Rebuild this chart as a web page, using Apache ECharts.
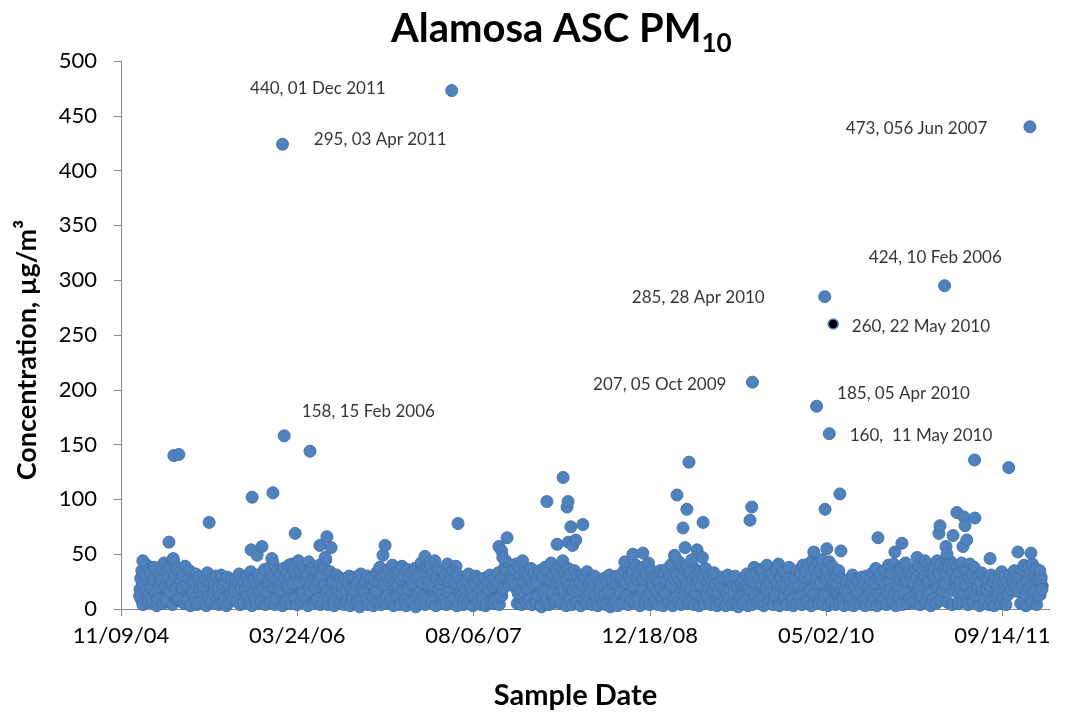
<!DOCTYPE html>
<html><head><meta charset="utf-8">
<script src="https://cdn.jsdelivr.net/npm/echarts@6/dist/echarts.min.js"></script>
<style>html,body{margin:0;padding:0;background:#fff}#c{width:1070px;height:719px}</style>
</head><body><div id="c"></div>
<script>
// ---- axis definitions ----
const axisStartDate = '2004-11-09';
const axisEndDate = '2012-01-27';
const xTickStepDays = 500;
const yMin = 0, yMax = 500, yStep = 50;

// ---- routine samples, schedule A: every 3 days from 2005-01-01 (µg/m³) ----
const bandStartDate = '2005-01-01';
const bandStepDays = 3;
const band2005 = [12,28,35,4,22,31,17,40,6,14, 33,19,6,27,38,15,3,9,30,21, 26,36,5,42,20,7,34,29,16,38, 23,4,44,30,18,37,8,9,33,27, 19,31,5,39,22,8,28,35,3,24, 15,26,10,32,4,6,29,18,24,12, 21,9,27,3,33,11,25,5,7,28, 14,23,30,8,19,4,12,31,6,22, 10,25,3,29,6,21,14,27,9,20, 16,28,7,23,32,4,19,26,5,24, 18,30,11,25,8,34,3,14,27,9, 22,5,31,17,26,6,29,19,36,4,24,15];
const band2006 = [25,38,6,30,42,19,4,9,35,21, 17,32,24,3,37,28,6,33,20,40, 29,5,41,23,36,10,31,4,44,26, 34,7,13,39,27,8,31,3,43,16, 24,37,5,29,19,35,9,26,40,4, 30,6,38,22,45,17,4,11,34,25, 13,26,3,8,31,17,23,5,28,15, 20,4,27,16,7,24,30,3,19,9, 18,29,5,22,6,26,2,32,10,21, 14,25,9,30,4,5,23,28,12,3, 27,16,33,6,24,38,4,29,7,22, 31,5,12,36,25,8,28,40,3,22,33,11];
const band2007 = [21,34,4,27,39,16,30,8,3,36, 18,29,6,33,23,6,37,2,28,14, 31,5,42,24,12,35,4,9,38,22, 26,40,7,32,21,44,3,29,36,18, 23,5,34,27,8,30,4,41,16,25, 28,6,35,10,24,39,3,31,14,26, 12,22,4,9,18,25,5,32,7,20, 17,3,11,23,30,6,8,27,19,4, 9,21,28,3,5,24,18,31,6,26, 20,5,27,8,22,33,4,11,29,18, 30,38,44,33,28,22,26,30,24,27, 36,22,41,5,14,39,31,4,44,25,33,6];
const band2008 = [19,31,8,26,37,4,23,33,6,28, 24,12,35,3,2,29,16,38,5,9, 33,4,27,42,13,30,6,8,36,25, 28,39,5,24,44,19,33,3,27,37, 20,32,9,4,17,35,23,6,30,18, 25,3,31,21,7,28,5,34,11,23, 15,27,4,22,30,13,6,3,25,17, 22,9,5,28,13,4,24,16,31,2, 13,26,4,7,23,30,3,21,15,27, 29,5,35,24,12,38,4,31,8,26, 34,21,6,40,27,9,32,3,37,16, 27,38,5,31,12,42,4,15,35,22,29,6];
const band2009 = [16,29,4,24,35,19,8,3,33,14, 25,37,5,30,21,41,3,28,10,34, 31,6,43,26,4,38,29,12,35,22, 40,5,33,18,45,27,4,14,30,21, 26,3,34,21,9,29,5,37,12,24, 19,30,4,25,16,33,22,8,3,14, 24,5,20,29,7,17,3,14,31,10, 18,27,4,22,15,30,5,20,2,12, 11,23,5,28,8,21,32,3,19,26, 30,4,25,38,12,33,6,27,9,36, 22,35,3,28,19,40,5,25,31,7, 33,4,27,12,36,24,41,3,29,21,34,10];
const band2010 = [20,32,4,27,38,16,24,9,3,22, 28,5,35,21,10,33,4,40,18,29, 34,6,41,17,30,3,44,13,37,24, 29,42,5,35,24,45,4,12,38,27, 36,3,43,28,6,39,25,33,4,30, 23,35,5,27,20,9,3,18,26,12, 17,4,10,23,31,3,21,6,26,15, 25,5,19,29,8,22,3,30,11,20, 14,27,4,33,10,24,37,3,28,13, 31,5,26,9,35,22,4,15,40,24, 18,33,6,41,14,3,21,36,11,27, 37,4,30,15,42,26,5,34,10,28,32,6];
const band2011 = [24,36,5,29,40,19,4,11,27,35, 30,6,42,26,14,38,3,33,9,29, 37,5,44,20,33,8,41,16,35,23, 32,45,6,38,27,43,4,34,40,26, 28,39,5,33,24,42,7,13,36,22, 35,4,29,41,15,31,6,38,12,27, 19,30,3,25,33,16,5,9,28,17, 26,4,21,31,8,24,3,29,11,20, 15,28,5,34,10,23,30,4,25,13, 22,31,18,27,24,35,20,29,16,26, 29,5,36,23,40,14,3,25,38,19, 33,6,41,16,30,37,4,27,12,35,26,18];

// ---- routine samples, schedule B: every 3 days from 2005-01-02 (µg/m³) ----
const bandBStartDate = '2005-01-02';
const bandB2005 = [18,9,24,14,29,11,20,7,26,16, 13,27,10,21,8,17,31,12,23,6, 19,28,14,9,25,33,11,22,15,30, 27,16,38,12,21,9,31,24,14,19, 10,23,17,28,12,20,7,26,15,32, 22,11,19,8,27,14,23,10,17,29, 8,16,24,12,20,5,18,27,13,22, 25,10,17,7,21,28,15,9,24,13, 20,12,26,15,8,18,10,23,16,11, 9,21,14,27,11,17,25,8,20,13, 24,12,19,6,28,16,10,22,31,14, 17,26,9,23,13,30,15,8,21,27,11,19];
const bandB2006 = [20,29,13,24,17,34,10,26,15,31, 28,11,21,16,25,9,30,19,13,23, 15,33,20,10,27,18,37,12,24,21, 22,14,30,18,9,26,35,20,12,29, 31,17,11,25,22,14,28,19,33,10, 16,26,20,12,29,23,8,31,18,14, 21,10,18,25,12,16,9,22,14,27, 12,23,15,8,19,26,11,17,24,7, 25,13,20,9,17,11,23,15,7,19, 22,8,16,13,25,19,10,21,6,17, 12,20,26,14,18,10,30,15,23,28, 17,25,21,13,29,19,35,24,16,27,14,20];
const bandB2007 = [27,15,23,11,30,19,25,14,21,17, 12,24,16,29,10,20,26,13,18,31, 23,17,33,14,27,19,11,28,21,16, 19,32,13,24,16,28,20,12,25,34, 30,14,21,17,25,11,20,29,13,18, 17,22,12,27,16,20,30,14,23,10, 20,14,25,11,16,22,9,13,24,15, 10,19,13,25,16,21,12,18,9,23, 16,11,20,14,24,8,19,12,22,17, 13,24,17,10,21,15,26,19,12,23, 33,27,35,29,31,25,23,28,35,30, 22,31,18,27,20,24,15,33,21,28,17,25];
const bandB2008 = [23,14,27,17,11,21,29,15,20,12, 16,27,10,22,14,31,21,9,25,18, 20,28,15,24,33,18,22,27,12,30, 35,21,29,16,25,31,14,22,18,26, 14,24,19,28,11,20,26,15,22,29, 18,12,24,16,20,10,27,14,21,17, 9,20,14,26,11,18,23,15,10,21, 16,27,12,19,8,23,14,20,11,17, 21,15,25,12,17,20,28,11,24,18, 24,17,28,15,20,26,17,22,30,13, 19,28,16,24,12,30,21,15,26,21, 18,25,20,28,14,23,32,19,24,13,27,16];
const bandB2009 = [22,12,27,18,14,25,20,29,11,19, 30,17,22,13,27,19,33,15,24,20, 18,29,21,35,16,24,31,19,26,13, 25,34,15,22,29,17,37,23,20,28, 14,22,17,29,12,20,26,16,23,31, 13,21,15,27,10,19,24,12,28,17, 16,9,22,13,25,12,19,23,15,21, 11,20,14,24,17,10,23,13,19,26, 17,13,24,19,12,27,15,9,22,16, 21,28,15,23,17,26,14,31,19,24, 27,16,22,12,31,18,25,14,20,29, 19,25,15,30,21,17,27,13,22,32,16,24];
const bandB2010 = [15,26,21,13,29,18,24,33,16,27, 21,30,14,25,18,36,22,15,27,12, 23,18,31,26,14,28,21,34,19,29, 34,20,27,16,30,21,38,25,18,32, 20,28,16,34,22,26,17,30,21,15, 13,22,17,28,11,24,16,21,14,26, 22,13,18,26,10,16,24,12,19,11, 13,21,15,11,24,17,12,22,16,25, 20,12,17,24,14,19,26,11,21,16, 16,26,20,14,28,17,24,21,31,13, 24,16,28,20,33,22,15,29,18,23, 28,18,25,21,30,14,24,20,27,19,23,15];
const bandB2011 = [19,28,16,24,31,13,22,27,18,14, 25,33,17,22,28,20,30,15,26,21, 29,20,35,27,16,31,24,21,37,18, 38,24,30,20,34,17,29,25,22,33, 21,30,14,25,19,33,20,28,15,27, 22,16,28,20,11,24,18,31,21,15, 13,21,17,11,23,26,14,19,24,12, 17,12,26,16,20,14,23,10,18,25, 21,16,11,27,19,14,22,17,13,20, 26,20,28,23,30,25,27,21,33,24, 22,27,18,31,14,26,20,34,17,29, 25,30,15,28,22,17,33,20,26,13,29,21];

// ---- elevated days (date, µg/m³) ----
const peakDates = ['2005-01-10','2005-03-25','2005-04-06','2005-04-08','2005-04-22','2005-07-17','2005-11-13','2005-11-16','2005-11-30','2005-12-14','2006-01-11','2006-01-14','2006-02-10','2006-02-15','2006-03-18','2006-04-29','2006-05-27','2006-06-11','2006-06-16','2006-06-28','2006-11-22','2006-11-28','2007-03-21','2007-06-05','2007-06-23','2007-10-17','2007-10-25','2007-10-28','2007-11-09','2008-03-01','2008-03-30','2008-04-16','2008-04-27','2008-04-30','2008-05-01','2008-05-08','2008-05-13','2008-05-22','2008-06-11','2008-10-08','2008-10-31','2008-11-28','2009-02-26','2009-03-05','2009-03-22','2009-03-28','2009-04-02','2009-04-08','2009-05-01','2009-05-16','2009-05-18','2009-09-28','2009-10-03','2009-10-05','2010-03-28','2010-04-05','2010-04-28','2010-04-29','2010-05-04','2010-05-11','2010-06-10','2010-06-13','2010-09-26','2010-11-13','2010-12-03','2011-01-15','2011-02-06','2011-03-18','2011-03-21','2011-04-03','2011-04-07','2011-04-10','2011-04-27','2011-05-08','2011-05-25','2011-05-28','2011-05-31','2011-06-05','2011-06-27','2011-06-28','2011-08-10','2011-10-02','2011-10-28','2011-12-01','2011-12-04'];
const peakValues = [44,61,46,140,141,79,54,102,49,57,46,106,424,158,69,144,58,47,66,56,49,58,48,473,78,57,53,47,65,98,59,120,93,98,61,75,58,63,77,43,50,51,49,104,74,56,91,134,54,47,79,81,93,207,52,185,285,91,55,160,105,53,65,52,60,47,44,69,76,295,57,50,67,88,57,84,76,63,136,83,46,129,52,440,51];

// ---- flagged sample (drawn black) ----
const flaggedDate = '2010-05-22';
const flaggedValue = 260;

// ---- annotation texts and where they sit (date, value of text's left-middle) ----
const annotationTexts = ['440, 01 Dec 2011','295, 03 Apr 2011','473, 056 Jun 2007','424, 10 Feb 2006','285, 28 Apr 2010','260, 22 May 2010','207, 05 Oct 2009','185, 05 Apr 2010','160,  11 May 2010','158, 15 Feb 2006'];
const annotationAnchorDates = ['2005-11-10','2006-05-10','2010-06-27','2010-08-31','2008-10-28','2010-07-14','2008-07-10','2010-06-02','2010-07-08','2006-04-06'];
const annotationAnchorValues = [475,428,438,321,284,258,205,197,158,180];

// ---- helpers ----
const DAY = 86400000;
function toMs(s){const p=s.split('-').map(Number);return Date.UTC(p[0],p[1]-1,p[2]);}
const originMs = toMs(axisStartDate);
function dayOf(s){return Math.round((toMs(s)-originMs)/DAY);}
function pad(n){return (n<10?'0':'')+n;}
function fmtDay(d){const t=new Date(originMs+d*DAY);return pad(t.getUTCMonth()+1)+'/'+pad(t.getUTCDate())+'/'+pad(t.getUTCFullYear()%100);}

function schedule(startDate, values){const s=dayOf(startDate);return values.map((v,i)=>[s+i*bandStepDays, v]);}
const bandAValues = [].concat(band2005,band2006,band2007,band2008,band2009,band2010,band2011);
const bandBValues = [].concat(bandB2005,bandB2006,bandB2007,bandB2008,bandB2009,bandB2010,bandB2011);
const bandData = schedule(bandBStartDate, bandBValues).concat(schedule(bandStartDate, bandAValues));
const peakData = peakDates.map((d,i)=>[dayOf(d), peakValues[i]]);
const annData = annotationTexts.map((t,i)=>[dayOf(annotationAnchorDates[i]), annotationAnchorValues[i], t]);

const xMax = dayOf(axisEndDate);
const xTicks = [];
for(let d=0; d<=xMax; d+=xTickStepDays) xTicks.push(d);

const FONT = 'Lato';
const blue = '#4F81BD', blueEdge = '#4674AB';
const markerStyle = {color: blue, borderColor: blueEdge, borderWidth: 1, opacity: 1};

const chart = echarts.init(document.getElementById('c'));
chart.setOption({
  animation: false,
  backgroundColor: '#fff',
  title: {
    text: '{a|Alamosa ASC PM}{b|10}',
    left: 386, top: 0,
    textStyle: {
      rich: {
        a: {fontFamily: FONT, fontWeight: 'bold', fontSize: 40, color: '#000', lineHeight: 48},
        b: {fontFamily: FONT, fontWeight: 'bold', fontSize: 26, color: '#000', lineHeight: 26, padding: [30,0,0,0]}
      }
    }
  },
  grid: {left: 121, right: 20, top: 61, bottom: 110},
  xAxis: {
    type: 'value', min: 0, max: xMax, interval: xTickStepDays,
    name: 'Sample Date', nameLocation: 'middle', nameGap: 72,
    nameTextStyle: {fontFamily: FONT, fontWeight: 'bold', fontSize: 29, color: '#000', padding: [0,20,0,0]},
    axisLine: {show: true, lineStyle: {color: '#868686', width: 1}},
    axisTick: {show: true, length: 7, customValues: xTicks, lineStyle: {color: '#868686'}},
    axisLabel: {customValues: xTicks, formatter: v => fmtDay(v), margin: 16,
      fontFamily: FONT, fontSize: 22, color: '#000'},
    splitLine: {show: false}
  },
  yAxis: {
    type: 'value', min: yMin, max: yMax, interval: yStep,
    name: 'Concentration, µg/m³', nameLocation: 'middle', nameGap: 80,
    nameTextStyle: {fontFamily: FONT, fontWeight: 'bold', fontSize: 27, color: '#000', padding: [0,30,0,0]},
    axisLine: {show: true, lineStyle: {color: '#868686', width: 1}},
    axisTick: {show: true, length: 7, lineStyle: {color: '#868686'}},
    axisLabel: {margin: 24, fontFamily: FONT, fontSize: 22, color: '#000'},
    splitLine: {show: false}
  },
  series: [
    {type: 'scatter', data: bandData, symbolSize: 12, itemStyle: markerStyle, silent: true, large: false},
    {type: 'scatter', data: peakData, symbolSize: 12, itemStyle: markerStyle, silent: true},
    {type: 'scatter', data: [[dayOf(flaggedDate), flaggedValue]], symbolSize: 10,
      itemStyle: {color: '#000', borderColor: blue, borderWidth: 1.5, opacity: 1}, silent: true, z: 5},
    {type: 'scatter', data: annData, symbolSize: 0, silent: true, z: 6,
      label: {show: true, position: 'right', distance: 0, formatter: p => p.data[2],
        fontFamily: FONT, fontSize: 17, color: '#000'}}
  ]
});
</script></body></html>
